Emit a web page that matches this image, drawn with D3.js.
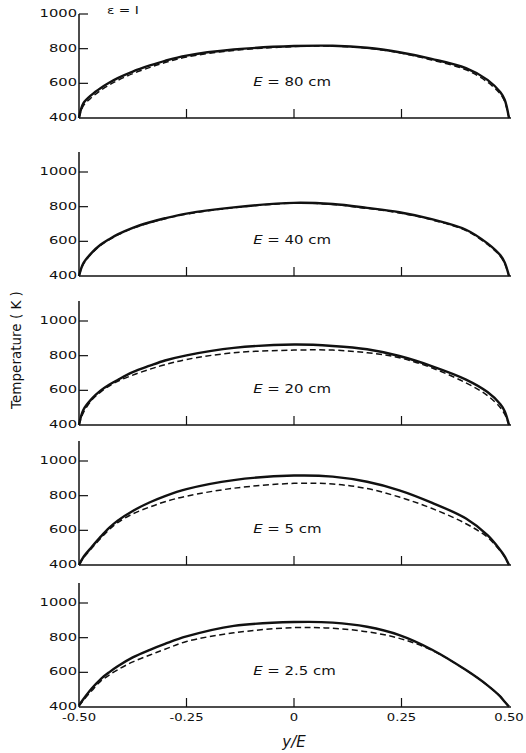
<!DOCTYPE html>
<html>
<head>
<meta charset="utf-8">
<script src="https://cdn.jsdelivr.net/npm/d3@7"></script>
<style>
  html, body { margin: 0; padding: 0; background: #fff; }
  svg { display: block; }
  text { font-family: "DejaVu Sans", "Liberation Sans", sans-serif; fill: #111; }
</style>
</head>
<body>
<svg id="chart" width="526" height="753"></svg>
<script>
// Position across the slab, y/E
const yOverE = [-0.5, -0.49, -0.47, -0.45, -0.43, -0.41, -0.375, -0.335, -0.3, -0.25,
                -0.14, 0, 0.09, 0.17, 0.245, 0.32, 0.4, 0.45, 0.48, 0.49, 0.5];

// Panel captions (slab thickness E)
const panelLabels = ["80 cm", "40 cm", "20 cm", "5 cm", "2.5 cm"];

// Temperature profiles (K): solid and dashed curves for each thickness
const solidE80  = [400, 484, 535, 572, 603, 630, 668, 703, 730, 760, 795, 815, 817, 805, 779, 741, 688, 620, 548, 505, 400];
const dashedE80 = [400, 470, 520, 558, 590, 617, 656, 692, 720, 752, 790, 812, 815, 803, 776, 735, 678, 607, 538, 495, 400];

const solidE40  = [400, 473, 535, 580, 612, 640, 678, 710, 733, 760, 796, 822, 815, 793, 768, 728, 667, 588, 519, 478, 400];
const dashedE40 = [400, 468, 531, 577, 609, 637, 675, 707, 730, 757, 794, 820, 813, 790, 764, 724, 662, 582, 514, 473, 400];

const solidE20  = [400, 487, 552, 598, 632, 660, 705, 742, 772, 802, 845, 864, 856, 837, 798, 740, 662, 590, 520, 480, 400];
const dashedE20 = [400, 470, 545, 590, 625, 652, 688, 722, 748, 778, 817, 832, 832, 817, 788, 730, 643, 570, 500, 462, 400];

const solidE5   = [400, 445, 505, 562, 614, 656, 712, 762, 798, 838, 890, 916, 910, 880, 831, 760, 668, 572, 485, 450, 400];
const dashedE5  = [400, 440, 498, 553, 604, 645, 695, 735, 765, 797, 843, 871, 867, 841, 792, 727, 638, 560, 480, 445, 400];

const solidE25  = [410, 445, 508, 560, 600, 635, 686, 730, 764, 807, 868, 890, 887, 863, 815, 732, 613, 525, 460, 430, 402];
const dashedE25 = [405, 438, 495, 548, 584, 615, 660, 700, 733, 778, 828, 858, 854, 834, 796, 728, 613, 525, 460, 430, 402];

const solidSeries  = [solidE80, solidE40, solidE20, solidE5, solidE25];
const dashedSeries = [dashedE80, dashedE40, dashedE20, dashedE5, dashedE25];

// Axis ticks
const yTicks = [400, 600, 800, 1000];
const xTicks = [-0.5, -0.25, 0, 0.25, 0.5];
const xTickLabels = ["-0.50", "-0.25", "0", "0.25", "0.50"];

// ---- layout ----
const svg = d3.select("#chart");
const panelBase = [118, 276, 425, 565, 707];   // pixel row of T = 400 K in each panel
const kPer = 104;                              // pixels spanned by 400 -> 1000 K
const x = d3.scaleLinear().domain([-0.5, 0.5]).range([79, 509]);

panelBase.forEach((base, i) => {
  const y = d3.scaleLinear().domain([400, 1000]).range([base, base - kPer]);
  const g = svg.append("g");
  const topT = i === 0 ? 1000 : 1115;

  // left axis line
  g.append("line")
    .attr("x1", x(-0.5)).attr("x2", x(-0.5))
    .attr("y1", y(400)).attr("y2", y(topT))
    .attr("stroke", "#111").attr("stroke-width", 1.5);

  // bottom axis line
  g.append("line")
    .attr("x1", x(-0.5)).attr("x2", x(0.5) + 2)
    .attr("y1", y(400)).attr("y2", y(400))
    .attr("stroke", "#111").attr("stroke-width", 1.5);

  // y ticks (inward) and labels
  yTicks.forEach(t => {
    if (t !== 400) {
      g.append("line")
        .attr("x1", x(-0.5)).attr("x2", x(-0.5) + 9)
        .attr("y1", y(t)).attr("y2", y(t))
        .attr("stroke", "#111").attr("stroke-width", 1.2);
    }
    g.append("text")
      .attr("transform", `translate(${x(-0.5) - 2},${y(t)}) scale(1.4,1)`)
      .attr("text-anchor", "end")
      .attr("dominant-baseline", "middle")
      .attr("font-size", 10.5)
      .text(t);
  });

  // x ticks (upward, interior only)
  xTicks.filter(t => Math.abs(t) < 0.5).forEach(t => {
    g.append("line")
      .attr("x1", x(t)).attr("x2", x(t))
      .attr("y1", y(400)).attr("y2", y(400) - 9)
      .attr("stroke", "#111").attr("stroke-width", 1.2);
  });

  const line = d3.line()
    .x((d, j) => x(yOverE[j]))
    .y(d => y(d))
    .curve(d3.curveCatmullRom.alpha(0.5));

  g.append("path")
    .datum(dashedSeries[i])
    .attr("d", line)
    .attr("fill", "none")
    .attr("stroke", "#111")
    .attr("stroke-width", 1.5)
    .attr("stroke-dasharray", "6,3.5");

  g.append("path")
    .datum(solidSeries[i])
    .attr("d", line)
    .attr("fill", "none")
    .attr("stroke", "#111")
    .attr("stroke-width", 2.4)
    .attr("stroke-linejoin", "round");

  // panel caption
  const cap = g.append("text")
    .attr("transform", `translate(${x(-0.095)},${y(400) - 32}) scale(1.3,1)`)
    .attr("font-size", 11.5);
  cap.append("tspan").attr("font-style", "italic").text("E");
  cap.append("tspan").text(" = " + panelLabels[i]);

  // x tick labels on the bottom panel only
  if (i === panelBase.length - 1) {
    xTicks.forEach((t, k) => {
      g.append("text")
        .attr("transform", `translate(${x(t)},${y(400) + 14}) scale(1.2,1)`)
        .attr("text-anchor", "middle")
        .attr("font-size", 11)
        .text(xTickLabels[k]);
    });
  }
});

// emissivity note in the top panel
svg.append("text")
  .attr("transform", "translate(107,14) scale(1.25,1)")
  .attr("font-size", 11)
  .text("\u03B5 = I");

// axis titles
svg.append("text")
  .attr("transform", "translate(21,350) rotate(-90)")
  .attr("text-anchor", "middle")
  .attr("font-size", 13.5)
  .text("Temperature ( K )");

svg.append("text")
  .attr("x", 294).attr("y", 747)
  .attr("text-anchor", "middle")
  .attr("font-size", 15)
  .attr("font-style", "italic")
  .text("y/E");
</script>
</body>
</html>
